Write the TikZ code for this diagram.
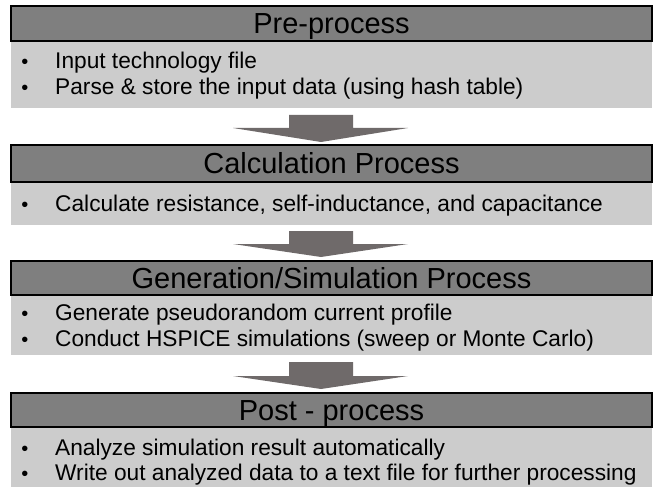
\documentclass[tikz,border=0pt]{standalone}
\usepackage{fontspec}
\setmainfont{Liberation Sans}
\usetikzlibrary{calc}
\definecolor{hdr}{HTML}{7F7F7F}
\definecolor{bdy}{HTML}{CCCCCC}
\definecolor{arr}{HTML}{6F6A6A}
\begin{document}
\begin{tikzpicture}[x=1pt,y=-1pt,
  hdrbox/.style={draw=black,line width=2pt,fill=hdr,minimum width=641pt,inner sep=0pt},
  bdybox/.style={fill=bdy,minimum width=641pt,inner sep=0pt},
  hdrtext/.style={anchor=base,inner sep=0pt,font=\fontsize{29}{32}\selectfont},
  itemtext/.style={anchor=base west,inner sep=0pt,font=\fontsize{22.7}{26}\selectfont},
  bullettext/.style={anchor=base,inner sep=0pt,font=\fontsize{20}{22}\selectfont},
  blockarrow/.style={fill=arr,draw=none}]
\useasboundingbox (0,0) rectangle (655,489);
% bodies
\node[bdybox,minimum height=67pt] (b1) at (331.5,74.5) {};
\node[bdybox,minimum height=43pt] (b2) at (331.5,203.5) {};
\node[bdybox,minimum height=59pt] (b3) at (331.5,325.5) {};
\node[bdybox,minimum height=60pt] (b4) at (331.5,457) {};
% headers
\node[hdrbox,minimum height=35pt] (h1) at (331.5,23.5) {};
\node[hdrbox,minimum height=37pt] (h2) at (331.5,163.5) {};
\node[hdrbox,minimum height=34pt] (h3) at (331.5,278) {};
\node[hdrbox,minimum height=34pt] (h4) at (331.5,410) {};
\node[hdrtext] (t1) at (331.5,34) {Pre-process};
\node[hdrtext] (t2) at (331.5,174) {Calculation Process};
\node[hdrtext] (t3) at (331.5,288.5) {Generation/Simulation Process};
\node[hdrtext] (t4) at (331.5,420.5) {Post - process};
% items
\foreach \n/\y/\txt in {i1/69/Input technology file,
  i2/95/Parse \& store the input data (using hash table),
  i3/211/{Calculate resistance, self-inductance, and capacitance},
  i4/320/Generate pseudorandom current profile,
  i5/346/Conduct HSPICE simulations (sweep or Monte Carlo),
  i6/455/Analyze simulation result automatically,
  i7/480/Write out analyzed data to a text file for further processing}{
  \node[bullettext] (\n b) at (25,\y) {•};
  \node[itemtext] (\n) at (55,\y) {\txt};
}
% block arrows
\foreach \a/\b/\top/\sh/\tip in {b1/h2/115/128/142, b2/h3/231/244/257, b3/h4/362/376/389}{
  \fill[blockarrow] (289,\top) -- (353,\top) -- (353,\sh) -- (408,\sh)
    -- (321,\tip) -- (233,\sh) -- (289,\sh) -- cycle;
}
\end{tikzpicture}
\end{document}
